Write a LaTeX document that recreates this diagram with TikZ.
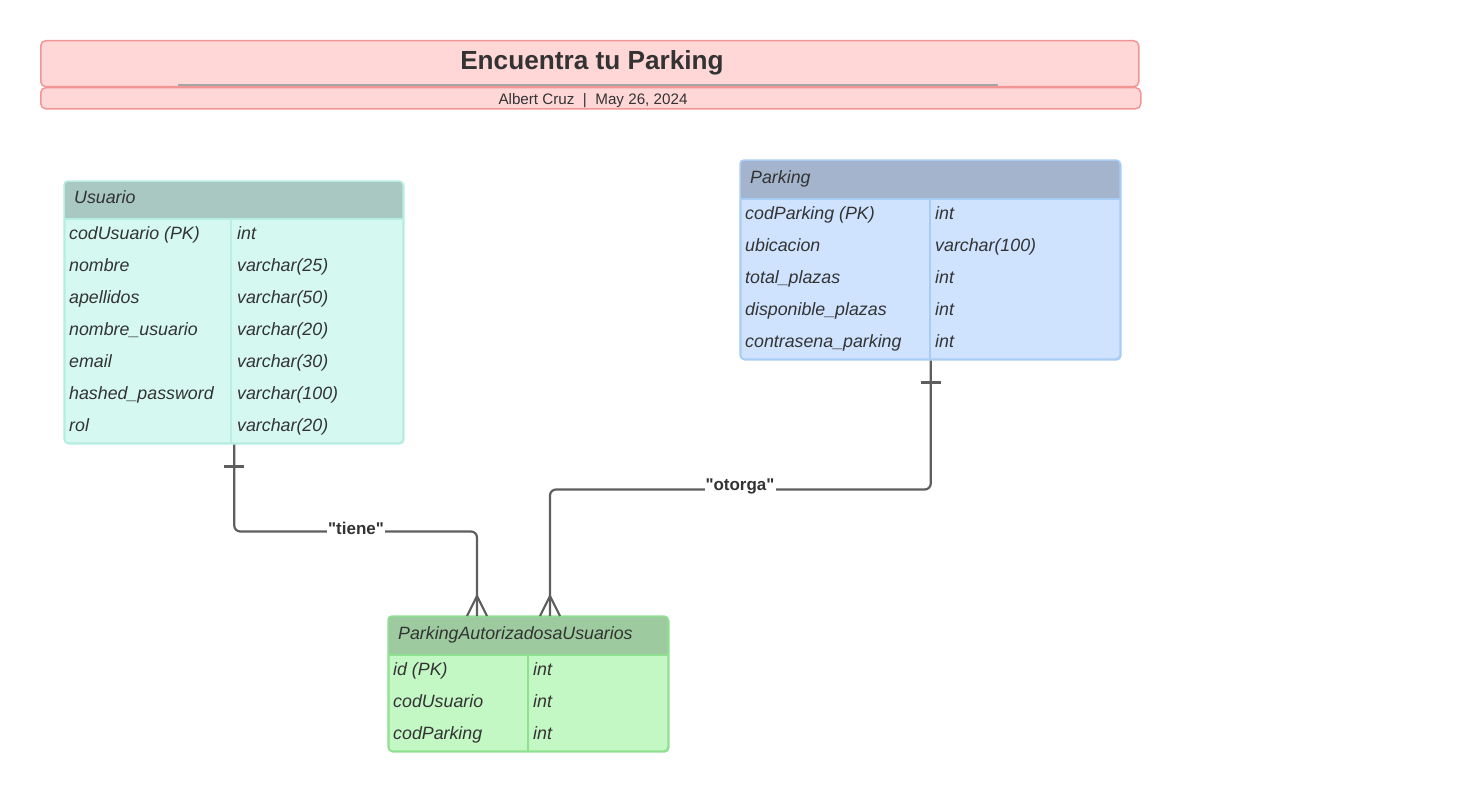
\documentclass[tikz,border=0pt]{standalone}
\usepackage{fontspec}
\setmainfont{Liberation Sans}[Ligatures=TeXOff]
\usetikzlibrary{calc}
\definecolor{txt}{HTML}{333333}
\definecolor{line}{HTML}{5E5E5E}
\definecolor{titlefill}{HTML}{FFD7D7}
\definecolor{titledraw}{HTML}{F29595}
\definecolor{uhead}{HTML}{A9C8C2}
\definecolor{ubody}{HTML}{D5F8F0}
\definecolor{udraw}{HTML}{B5EDE2}
\definecolor{phead}{HTML}{A4B4CC}
\definecolor{pbody}{HTML}{CFE3FF}
\definecolor{pdraw}{HTML}{A9CCF5}
\definecolor{ahead}{HTML}{9DCB9F}
\definecolor{abody}{HTML}{C3F7C4}
\definecolor{adraw}{HTML}{8FE090}
\tikzset{
  tablebox/.style={draw, line width=1.5pt, rounded corners=4pt, anchor=north west, inner sep=0pt},
  celltext/.style={anchor=west, inner sep=0pt, text height=13pt, text depth=4pt, text=txt, font=\fontsize{17.8}{20}\selectfont\itshape},
  conn/.style={draw=line, line width=2.2pt, rounded corners=6pt},
  rel/.style={fill=white, inner sep=1pt, text=txt, font=\fontsize{17}{20}\selectfont\bfseries},
}
\begin{document}
\begin{tikzpicture}[x=1pt,y=-1pt]
\useasboundingbox (0,0) rectangle (1460,792);
% title
\node[draw=titledraw, fill=titlefill, line width=1.5pt, rounded corners=5pt, anchor=north west, minimum width=1098pt, minimum height=46pt, inner sep=0pt] (titlebox) at (40,40) {};
\node[text=txt, font=\fontsize{26.2}{30}\selectfont\bfseries] (title) at (592,63) {Encuentra tu Parking};
\draw[draw=gray!70, line width=2pt] (178,85) -- (998,85);
\node[draw=titledraw, fill=titlefill, line width=1.5pt, rounded corners=5pt, anchor=north west, minimum width=1100pt, minimum height=21pt, inner sep=0pt] (subbox) at (40,87) {};
\node[text=txt, font=\fontsize{15.2}{17}\selectfont] (subtitle) at (593,100.5) {Albert Cruz~~|~~May 26, 2024};

% Usuario
\node[tablebox, draw=udraw, fill=ubody, minimum width=339pt, minimum height=262pt] (usuario) at (64,181) {};
\begin{scope}
\clip[rounded corners=4pt] (64,181) rectangle (403,443);
\fill[uhead] (64,181) rectangle (403,219);
\end{scope}
\draw[udraw, line width=1.5pt] (64,219) -- (403,219);
\draw[udraw!80!ubody, line width=1.5pt] (231,219) -- (231,443);
\draw[udraw, line width=1.5pt, rounded corners=4pt] (64,181) rectangle (403,443);
\node[celltext] (uhdr) at (74,199) {Usuario};
\foreach \n/\t [count=\i] in {codUsuario (PK)/int, nombre/varchar(25), apellidos/varchar(50), nombre\_usuario/varchar(20), email/varchar(30), hashed\_password/varchar(100), rol/varchar(20)}{
  \node[celltext] (un\i) at (69,{235+32*(\i-1)}) {\n};
  \node[celltext] (ut\i) at (237,{235+32*(\i-1)}) {\t};
}

% Parking
\node[tablebox, draw=pdraw, fill=pbody, minimum width=380pt, minimum height=199pt] (parking) at (740,160) {};
\begin{scope}
\clip[rounded corners=4pt] (740,160) rectangle (1120,359);
\fill[phead] (740,160) rectangle (1120,199);
\end{scope}
\draw[pdraw, line width=1.5pt] (740,199) -- (1120,199);
\draw[pdraw, line width=1.5pt] (930,199) -- (930,359);
\draw[pdraw, line width=1.5pt, rounded corners=4pt] (740,160) rectangle (1120,359);
\node[celltext] (phdr) at (750,179) {Parking};
\foreach \n/\t [count=\i] in {codParking (PK)/int, ubicacion/varchar(100), total\_plazas/int, disponible\_plazas/int, contrasena\_parking/int}{
  \node[celltext] (pn\i) at (745,{215+32*(\i-1)}) {\n};
  \node[celltext] (pt\i) at (935,{215+32*(\i-1)}) {\t};
}

% ParkingAutorizadosaUsuarios
\node[tablebox, draw=adraw, fill=abody, minimum width=280pt, minimum height=135pt] (pau) at (388,616) {};
\begin{scope}
\clip[rounded corners=4pt] (388,616) rectangle (668,751);
\fill[ahead] (388,616) rectangle (668,655);
\end{scope}
\draw[adraw, line width=1.5pt] (388,655) -- (668,655);
\draw[adraw, line width=1.5pt] (528,655) -- (528,751);
\draw[adraw, line width=1.5pt, rounded corners=4pt] (388,616) rectangle (668,751);
\node[celltext] (ahdr) at (398,635) {ParkingAutorizadosaUsuarios};
\foreach \n/\t [count=\i] in {id (PK)/int, codUsuario/int, codParking/int}{
  \node[celltext] (an\i) at (393,{671+32*(\i-1)}) {\n};
  \node[celltext] (at\i) at (533,{671+32*(\i-1)}) {\t};
}

% connectors
\coordinate (pauA) at ($(pau.north west)+(89,0)$);
\coordinate (pauB) at ($(pau.north west)+(162,0)$);
\draw[conn] (usuario.south) -- ($(usuario.south)+(0,87)$) -| (pauA);
\draw[conn] (parking.south) -- ($(parking.south)+(0,129)$) -| (pauB);
% one marks
\draw[line, line width=2.2pt] ($(usuario.south)+(-10,22)$) -- ($(usuario.south)+(10,22)$);
\draw[line, line width=2.2pt] ($(parking.south)+(-10,22)$) -- ($(parking.south)+(10,22)$);
% many marks
\draw[line, line width=2.2pt] ($(pauA)+(-10,0)$) -- ($(pauA)+(0,-20)$) -- ($(pauA)+(10,0)$);
\draw[line, line width=2.2pt] ($(pauB)+(-10,0)$) -- ($(pauB)+(0,-20)$) -- ($(pauB)+(10,0)$);
% labels
\node[rel] (tiene) at (356,528) {"tiene"};
\node[rel] (otorga) at (740,486) {"otorga"};
\end{tikzpicture}
\end{document}
